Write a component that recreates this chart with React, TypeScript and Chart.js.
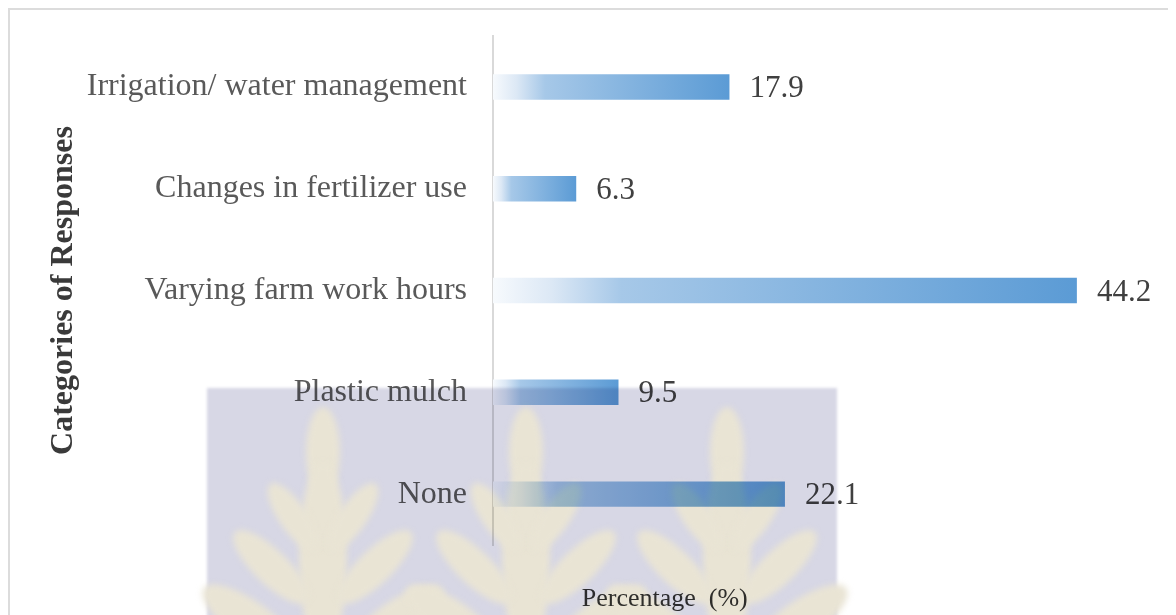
import React, { useEffect, useRef } from "react";
import { Chart, registerables } from "chart.js";

Chart.register(...registerables);

const categories = [
  "Irrigation/ water management",
  "Changes in fertilizer use",
  "Varying farm work hours",
  "Plastic mulch",
  "None",
];
const percentages = [17.9, 6.3, 44.2, 9.5, 22.1];
const xAxisTitle = "Percentage  (%)";
const yAxisTitle = "Categories of Responses";
const xMin = 0;
const xMax = 50;

const SERIF = '"Liberation Serif", "Times New Roman", serif';

function barGradient(ctx: any) {
  const chart = ctx.chart;
  if (!chart.chartArea || ctx.type !== "data") return "#5b9bd5";
  const xs = chart.scales.x;
  const v = typeof ctx.raw === "number" ? ctx.raw : percentages[ctx.dataIndex];
  const x0 = xs.getPixelForValue(0);
  const x1 = xs.getPixelForValue(v);
  const g = chart.ctx.createLinearGradient(x0, 0, x1, 0);
  g.addColorStop(0, "#f7fafd");
  g.addColorStop(0.1, "#dce8f5");
  g.addColorStop(0.22, "#a6c8e8");
  g.addColorStop(1, "#5b9bd5");
  return g;
}

const labelPlugin = {
  id: "valueLabels",
  afterDatasetsDraw(chart: any) {
    const { ctx, chartArea } = chart;
    const meta = chart.getDatasetMeta(0);
    ctx.save();
    ctx.font = `31px ${SERIF}`;
    ctx.fillStyle = "#404040";
    ctx.textAlign = "left";
    ctx.textBaseline = "middle";
    meta.data.forEach((bar: any, i: number) => {
      ctx.fillText(String(percentages[i]), bar.x + 20, bar.y + 2);
    });
    ctx.font = `26px ${SERIF}`;
    ctx.fillStyle = "#333333";
    ctx.textAlign = "center";
    const { left, right, bottom } = chartArea;
    ctx.fillText(xAxisTitle, left + (right - left) * 0.26, bottom + 54);
    ctx.restore();
  },
};

function leaf(o: CanvasRenderingContext2D, x: number, y: number, rx: number, ry: number, rot: number) {
  o.beginPath();
  o.ellipse(x, y, rx, ry, rot, 0, Math.PI * 2);
  o.fill();
}

function drawTree(o: CanvasRenderingContext2D, cx: number, top: number) {
  leaf(o, cx, top + 45, 17, 45, 0);
  leaf(o, cx, top + 150, 24, 95, 0);
  leaf(o, cx - 30, top + 110, 14, 40, -0.6);
  leaf(o, cx + 30, top + 110, 14, 40, 0.6);
  leaf(o, cx - 52, top + 160, 17, 50, -0.8);
  leaf(o, cx + 52, top + 160, 17, 50, 0.8);
  leaf(o, cx - 72, top + 215, 20, 58, -0.95);
  leaf(o, cx + 72, top + 215, 20, 58, 0.95);
}

const watermarkPlugin = {
  id: "watermark",
  afterDraw(chart: any) {
    const { ctx, width, height } = chart;
    const off = document.createElement("canvas");
    off.width = width;
    off.height = height;
    const o = off.getContext("2d") as CanvasRenderingContext2D;
    o.filter = "blur(1.5px)";
    o.fillStyle = "#d7d7e5";
    o.fillRect(197, 378, 630, 300);
    o.filter = "blur(3px)";
    o.fillStyle = "#e9e4d4";
    [313, 516, 717].forEach((cx) => drawTree(o, cx, 397));
    ctx.save();
    ctx.globalCompositeOperation = "multiply";
    ctx.drawImage(off, 0, 0);
    ctx.restore();
  },
};

export default function App() {
  const canvasRef = useRef<HTMLCanvasElement | null>(null);

  useEffect(() => {
    document.documentElement.style.overflow = "hidden";
    const canvas = canvasRef.current;
    if (!canvas) return;
    const chart = new Chart(canvas, {
      type: "bar",
      data: {
        labels: categories,
        datasets: [
          {
            data: percentages,
            backgroundColor: barGradient as any,
            borderWidth: 0,
            barPercentage: 0.25,
            categoryPercentage: 1,
          },
        ],
      },
      options: {
        indexAxis: "y",
        responsive: false,
        animation: false,
        layout: { padding: { left: 22, top: 26, right: 22.5, bottom: 70 } },
        plugins: {
          legend: { display: false },
          tooltip: { enabled: false },
        },
        scales: {
          x: {
            display: false,
            min: xMin,
            max: xMax,
          },
          y: {
            afterFit: (scale: any) => {
              scale.width = 461;
              scale.paddingTop = 0;
              scale.paddingBottom = 0;
            },
            grid: { display: false, drawTicks: false },
            border: { display: true, color: "#d9d9d9", width: 2 },
            ticks: {
              padding: 26,
              color: "#595959",
              font: { family: SERIF, size: 32 },
            },
            title: {
              display: true,
              text: yAxisTitle,
              color: "#3a3a3a",
              padding: { top: 13, bottom: 0 },
              font: { family: SERIF, size: 32, weight: "bold" },
            },
          },
        },
      },
      plugins: [labelPlugin, watermarkPlugin],
    });
    return () => chart.destroy();
  }, []);

  return (
    <div
      style={{
        width: 1166,
        height: 605,
        borderLeft: "2px solid #dcdcdc",
        borderTop: "2px solid #dcdcdc",
        background: "#ffffff",
      }}
    >
      <canvas ref={canvasRef} width={1166} height={605} style={{ display: "block", width: 1166, height: 605 }} />
    </div>
  );
}
